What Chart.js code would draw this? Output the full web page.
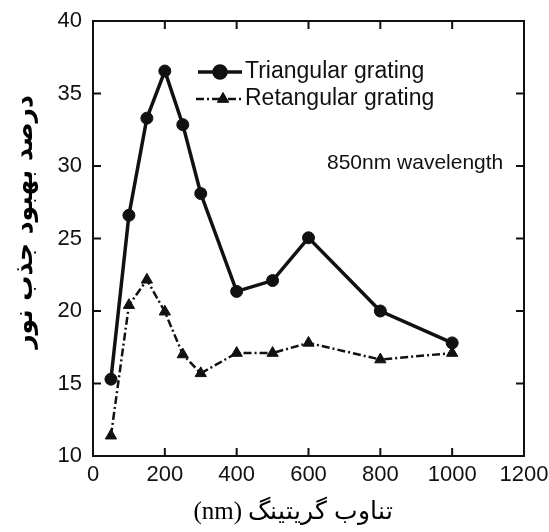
<!DOCTYPE html>
<html>
<head>
<meta charset="utf-8">
<script src="https://cdn.jsdelivr.net/npm/chart.js@4/dist/chart.umd.min.js"></script>
<style>
  html, body { margin: 0; padding: 0; background: #fff; }
  #wrap { width: 549px; height: 532px; }
</style>
</head>
<body>
<div id="wrap"><canvas id="chart1"></canvas></div>
<script>
// grating period (nm)
const periods = [50, 100, 150, 200, 250, 300, 400, 500, 600, 800, 1000];
const triangular = [15.3, 26.6, 33.3, 36.55, 32.85, 28.1, 21.35, 22.1, 25.05, 20.0, 17.8];
const rectangular = [11.4, 20.4, 22.15, 19.95, 17.0, 15.7, 17.1, 17.1, 17.8, 16.65, 17.1];
const xTicks = [0, 200, 400, 600, 800, 1000, 1200];
const yTicks = [10, 15, 20, 25, 30, 35, 40];
const seriesNames = ['Triangular grating', 'Retangular grating'];

const toPoints = (ys) => periods.map((x, i) => ({ x: x, y: ys[i] }));

// box, inward ticks on all four sides, legend and note
const framePlugin = {
  id: 'frame',
  afterDraw(chart) {
    const ctx = chart.ctx;
    const a = chart.chartArea;
    const xs = chart.scales.x, ys = chart.scales.y;
    ctx.save();
    ctx.strokeStyle = '#111';
    ctx.lineWidth = 2;
    ctx.strokeRect(a.left, a.top, a.right - a.left, a.bottom - a.top);
    ctx.beginPath();
    xTicks.forEach(v => {
      const px = xs.getPixelForValue(v);
      ctx.moveTo(px, a.bottom); ctx.lineTo(px, a.bottom - 8);
      ctx.moveTo(px, a.top); ctx.lineTo(px, a.top + 8);
    });
    yTicks.forEach(v => {
      const py = ys.getPixelForValue(v);
      ctx.moveTo(a.left, py); ctx.lineTo(a.left + 8, py);
      ctx.moveTo(a.right, py); ctx.lineTo(a.right - 8, py);
    });
    ctx.stroke();

    // legend
    const lx0 = a.left + 105, lx1 = a.left + 149;
    const rows = [a.top + 51, a.top + 78];
    ctx.fillStyle = '#111';
    ctx.lineWidth = 3.5;
    ctx.setLineDash([]);
    ctx.beginPath(); ctx.moveTo(lx0, rows[0]); ctx.lineTo(lx1, rows[0]); ctx.stroke();
    Chart.helpers.drawPoint(ctx, { pointStyle: 'circle', radius: 6, borderWidth: 1 }, (lx0 + lx1) / 2, rows[0]);
    ctx.fill();
    ctx.lineWidth = 2.5;
    ctx.setLineDash([8, 3, 2, 3]);
    ctx.beginPath(); ctx.moveTo(lx0 - 2, rows[1]); ctx.lineTo(lx1, rows[1]); ctx.stroke();
    ctx.setLineDash([]);
    ctx.lineWidth = 1;
    Chart.helpers.drawPoint(ctx, { pointStyle: 'triangle', radius: 6.5, borderWidth: 1 }, (lx0 + lx1) / 2 + 3, rows[1]);
    ctx.fill();
    ctx.font = '23px "Liberation Sans", Arial, sans-serif';
    ctx.textAlign = 'left';
    ctx.textBaseline = 'middle';
    ctx.fillText(seriesNames[0], lx1 + 3, rows[0]);
    ctx.fillText(seriesNames[1], lx1 + 3, rows[1]);

    ctx.font = '21px "Liberation Sans", Arial, sans-serif';
    ctx.fillText('850nm wavelength', a.left + 234, ys.getPixelForValue(30) - 3);

    // axis titles
    ctx.fillStyle = '#000';
    ctx.textAlign = 'center';
    ctx.direction = 'ltr';
    ctx.font = '25px "Liberation Serif", "Times New Roman", serif';
    ctx.fillText('(nm) تناوب گریتینگ', 293, 512);
    ctx.save();
    ctx.translate(25, 222);
    ctx.rotate(-Math.PI / 2);
    ctx.font = 'bold 25px "DejaVu Sans", sans-serif';
    ctx.fillText('درصد بهبود جذب نور', 0, 0);
    ctx.restore();
    ctx.restore();
  }
};

const ctx1 = document.getElementById('chart1').getContext('2d');
const chart1 = new Chart(ctx1, {
  type: 'scatter',
  data: {
    datasets: [{
      label: seriesNames[0],
      data: toPoints(triangular),
      showLine: true,
      borderColor: '#111',
      backgroundColor: '#111',
      borderWidth: 3.5,
      pointStyle: 'circle',
      pointRadius: 6,
      pointBorderWidth: 1
    }, {
      label: seriesNames[1],
      data: toPoints(rectangular),
      showLine: true,
      borderColor: '#111',
      backgroundColor: '#111',
      borderWidth: 2.5,
      borderDash: [8, 3, 2, 3],
      pointStyle: 'triangle',
      pointRadius: 6.5,
      pointBorderWidth: 1
    }]
  },
  options: {
    responsive: true,
    maintainAspectRatio: false,
    animation: false,
    layout: { padding: { top: 21, right: 25, left: 0, bottom: 0 } },
    scales: {
      x: {
        type: 'linear',
        min: 0,
        max: 1200,
        afterFit: (s) => { s.height = 76; s.paddingLeft = 0; s.paddingRight = 0; },
        afterBuildTicks: (s) => { s.ticks = xTicks.map(v => ({ value: v })); },
        grid: { display: false, drawTicks: false },
        border: { display: false },
        ticks: {
          padding: 6,
          color: '#111',
          font: { family: '"Liberation Sans", Arial, sans-serif', size: 22 },
          maxRotation: 0,
          autoSkip: false,
          callback: (v) => String(v)
        }
      },
      y: {
        min: 10,
        max: 40,
        afterFit: (s) => { s.width = 93; s.paddingTop = 0; s.paddingBottom = 0; },
        afterBuildTicks: (s) => { s.ticks = yTicks.map(v => ({ value: v })); },
        grid: { display: false, drawTicks: false },
        border: { display: false },
        ticks: {
          padding: 11,
          color: '#111',
          font: { family: '"Liberation Sans", Arial, sans-serif', size: 22 },
          autoSkip: false,
          callback: (v) => String(v)
        }
      }
    },
    plugins: {
      legend: { display: false },
      tooltip: { enabled: false }
    }
  },
  plugins: [framePlugin]
});
</script>
</body>
</html>
